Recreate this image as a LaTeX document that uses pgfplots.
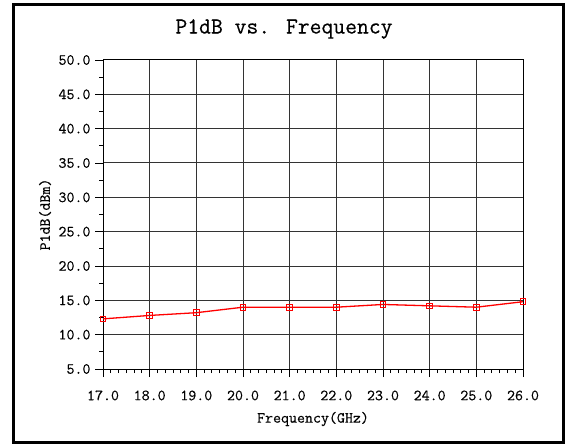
\documentclass[border=0pt]{standalone}
\usepackage{pgfplots}
\pgfplotsset{compat=1.18}
\usepackage{fontspec}
\newfontfamily\chartfont{Latin Modern Mono}[FakeBold=0.4]

\begin{document}
\begin{tikzpicture}
	\path[fill=white] (0pt,0pt) rectangle (569pt,447pt);
	\draw[line width=3pt] (13.5pt,4.5pt) rectangle (563.5pt,442.5pt);
	\node[font=\chartfont\fontsize{23}{27}\selectfont] at (284pt,418pt) {P1dB vs. Frequency};
	\begin{axis}[
	at={(103pt,78pt)}, anchor=south west,
	scale only axis,
	width=420pt, height=309pt,
	xmin=17, xmax=26, ymin=5, ymax=50,
	xtick={17,18,...,26}, ytick={5,10,...,50},
	minor x tick num=5, minor y tick num=1,
	tick align=outside,
	major tick length=8pt, minor tick length=4pt,
	tick style={black, line width=0.8pt},
	xtick pos=bottom, ytick pos=left,
	grid=major,
	major grid style={black!80, line width=1pt},
	axis line style={black, line width=1pt},
	/pgf/number format/assume math mode=true,
	/pgf/number format/.cd, fixed, fixed zerofill, precision=1, /pgfplots/.cd,
	ticklabel style={font=\chartfont\fontsize{15.5}{18}\selectfont},
	xticklabel style={yshift=-10pt},
	yticklabel style={xshift=-1pt},
	xlabel={Frequency(GHz)},
	ylabel={P1dB(dBm)},
	label style={font=\chartfont\fontsize{15.5}{18}\selectfont},
	xlabel style={at={(axis description cs:0.5,-0.162)}, anchor=center},
	ylabel style={at={(axis description cs:-0.138,0.5)}, anchor=center, rotate=0},
	clip=false,
	]
	\addplot[red, line width=1.3pt, mark=square, mark size=2.8pt, mark options={line width=1pt}]
	coordinates {(17,12.3) (18,12.8) (19,13.2) (20,14.0) (21,14.0) (22,14.0) (23,14.4) (24,14.2) (25,14.0) (26,14.8)};
	\end{axis}
\end{tikzpicture}
\end{document}
